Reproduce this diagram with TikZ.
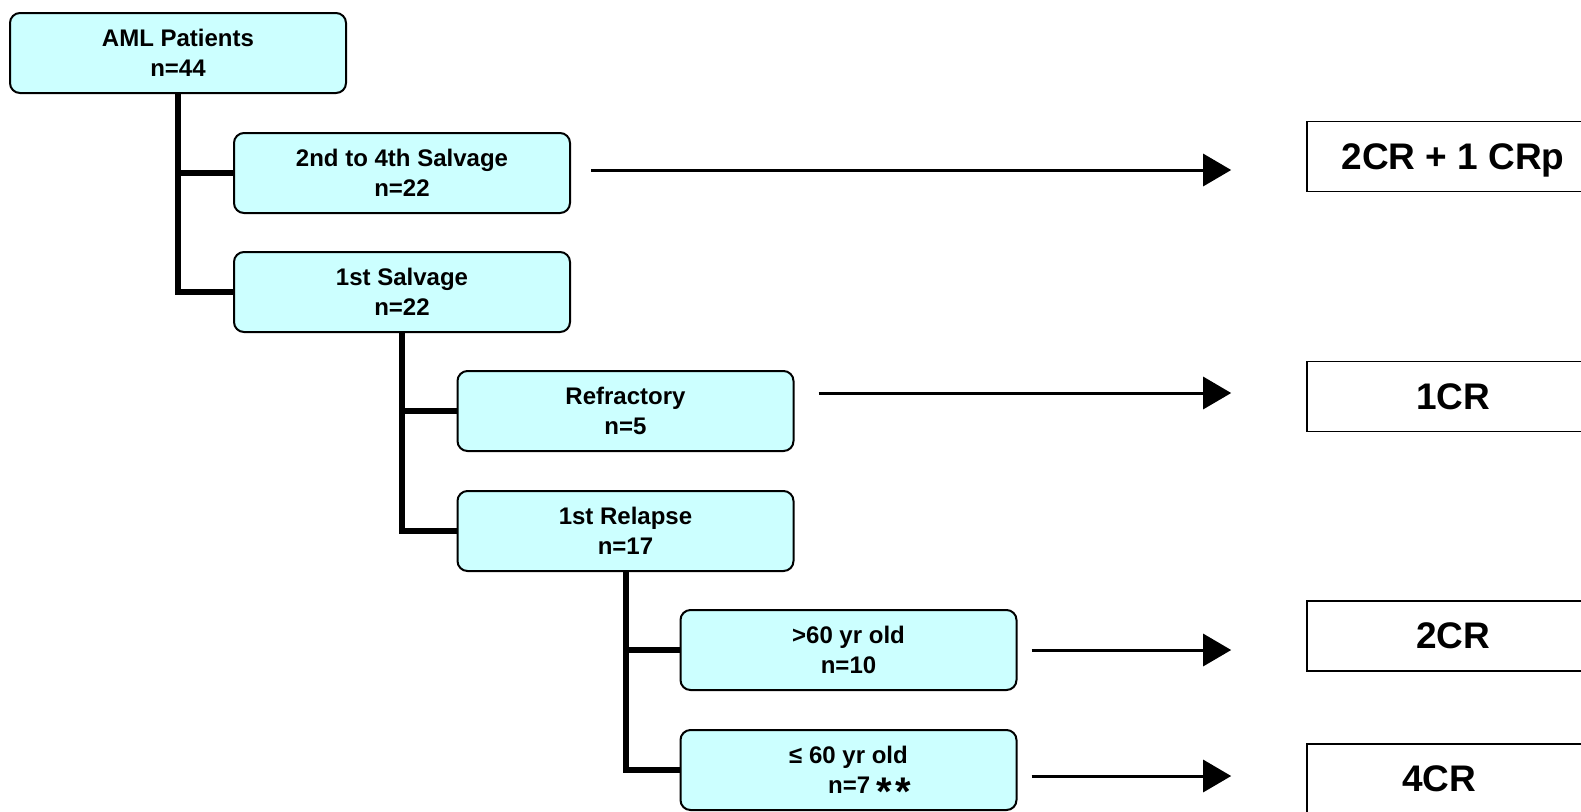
\documentclass[tikz,border=0pt]{standalone}
\usepackage{fontspec}
\setmainfont{Liberation Sans}
\usetikzlibrary{arrows.meta}

\begin{document}
\begin{tikzpicture}[x=0.5pt, y=-0.5pt, >={Triangle[length=14pt,width=16pt]},
  font=\fontsize{12}{15}\selectfont\bfseries,
  group/.style={draw, line width=1pt, fill=cyanbox, rounded corners=5pt, minimum width=168pt, minimum height=40pt, align=center, inner sep=0pt},
  result/.style={draw, line width=0.8pt, fill=white, minimum width=146pt, minimum height=35pt, inner sep=0pt, text depth=0pt, font=\fontsize{18.5}{20}\selectfont\bfseries},
  tree/.style={line width=3pt},
  flow/.style={->, line width=1.5pt, shorten >=37.5pt}]
\definecolor{cyanbox}{HTML}{CCFFFF}
\useasboundingbox (0,0) rectangle (1581,811);
\clip (0,0) rectangle (1581,811);
% patient groups
\node[group] (aml) at (178,53) {AML Patients\\n=44};
\node[group] (sal24) at (402,173) {2nd to 4th Salvage\\n=22};
\node[group] (sal1) at (402,292) {1st Salvage\\n=22};
\node[group] (refr) at (625.5,411) {Refractory\\n=5};
\node[group] (rel1) at (625.5,531) {1st Relapse\\n=17};
\node[group] (old) at (848.5,650) {>60 yr old\\n=10};
\node[group] (young) at (848.5,770) {≤ 60 yr old\\\hspace*{21pt}n=7 \raisebox{-6pt}[9pt][0pt]{\fontsize{20}{20}\selectfont*\kern1.5pt*}};
% responses
\node[result] (res1) at (1453,156.5) {2CR + 1 CRp};
\node[result] (res2) at (1453,396.5) {1CR};
\node[result] (res3) at (1453,636) {2CR};
\node[result] (res4) at (1453,779) {4CR\hspace*{14pt}};
% tree
\draw[tree] (aml.south) |- (sal24.west);
\draw[tree] (aml.south) |- (sal1.west);
\draw[tree] (sal1.south) |- (refr.west);
\draw[tree] (sal1.south) |- (rel1.west);
\draw[tree] (rel1.south) |- (old.west);
\draw[tree] (rel1.south) |- (young.west);
% arrows
\draw[flow, shorten <=10pt] ([yshift=1.5pt]sal24.east) -- ([yshift=1.5pt]sal24.east -| res1.west);
\draw[flow, shorten <=12pt] ([yshift=9pt]refr.east) -- ([yshift=9pt]refr.east -| res2.west);
\draw[flow, shorten <=7pt] (old.east) -- (old.east -| res3.west);
\draw[flow, shorten <=7pt] ([yshift=-3pt]young.east) -- ([yshift=-3pt]young.east -| res4.west);
\end{tikzpicture}
\end{document}
